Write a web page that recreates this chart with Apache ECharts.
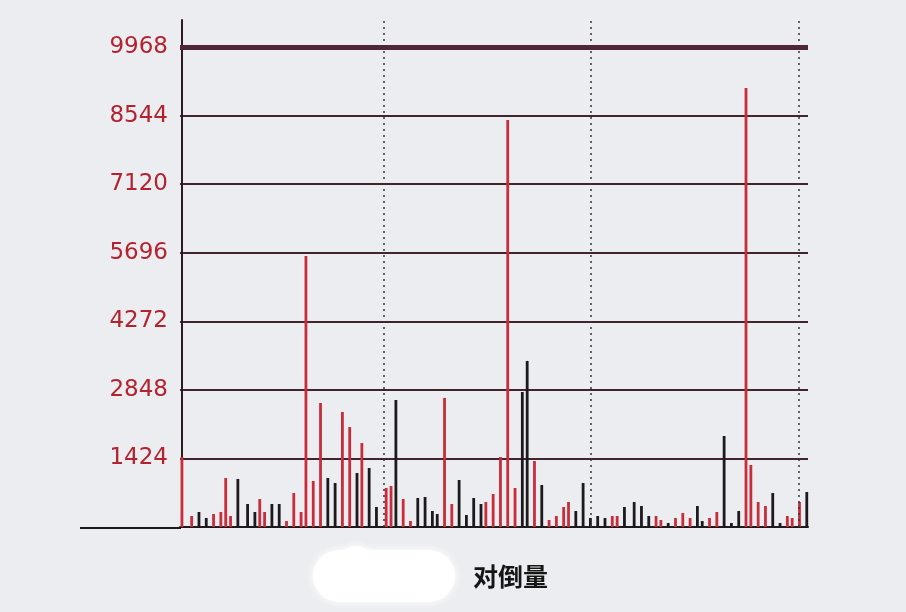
<!DOCTYPE html>
<html>
<head>
<meta charset="utf-8">
<script src="https://cdn.jsdelivr.net/npm/echarts@6/dist/echarts.min.js"></script>
<style>
html,body{margin:0;padding:0;background:#ecedf0;}
#c{width:906px;height:612px;}
</style>
</head>
<body>
<div id="c"></div>
<script>
// y-axis tick labels
const yTicks = [1424, 2848, 4272, 5696, 7120, 8544, 9968];
// bar positions (time slot index) and values — red bars
const redX = [0,4,13,16,18,20,32,34,43,46,49,51,54,57,66,69,74,84,86,91,94,108,111,125,128,131,134,137,145,151,154,157,159,177,179,195,197,203,206,209,217,220,232,234,237,240,249,251,254];
const redV = [1450,228,270,311,1018,228,581,311,125,706,311,5630,955,2575,2389,2077,1745,810,851,581,125,2680,478,519,685,1454,8450,810,1371,145,228,415,519,228,228,228,145,187,291,187,187,311,9118,1288,519,436,228,187,519];
// black bars
const blackX = [7,10,23,27,30,37,40,60,63,72,77,80,88,97,100,103,105,114,117,120,123,140,142,148,162,165,168,171,174,182,186,189,192,200,212,214,223,226,229,243,246,257];
const blackV = [311,187,997,478,311,478,478,1018,914,1121,1225,415,2638,602,623,332,270,976,249,602,478,2804,3448,872,332,914,187,228,187,415,519,436,228,83,436,125,1890,83,332,706,83,727];
// session separators (slot index)
const sessionMarks = [83, 168, 253.6];
const xLabel = '对倒量';

const yStep = 1424;
const yTop = 9968;

const chart = echarts.init(document.getElementById('c'));
const pair = (xs, vs) => xs.map((x, i) => [x, vs[i]]);

chart.setOption({
  backgroundColor: '#ecedf0',
  animation: false,
  title: {
    text: xLabel,
    left: 468,
    top: 559,
    textStyle: {fontFamily: 'Noto Sans CJK SC', fontSize: 25, fontWeight: 'bold', color: '#151515'}
  },
  grid: {left: 180, right: 98, top: 20, bottom: 85},
  xAxis: {
    type: 'value',
    min: -0.8,
    max: 257.5,
    axisLine: {show: true, lineStyle: {color: '#1e1a1c', width: 2}},
    axisTick: {show: false},
    axisLabel: {show: false},
    splitLine: {show: false}
  },
  yAxis: {
    type: 'value',
    min: 0,
    max: yTop * 507 / 480,
    interval: yStep,
    axisLine: {show: true, lineStyle: {color: '#2a1c20', width: 2}},
    axisTick: {show: false},
    axisLabel: {
      color: '#b3222e',
      fontFamily: 'DejaVu Sans',
      fontSize: 23,
      margin: 12,
      showMaxLabel: false,
      formatter: v => (yTicks.indexOf(v) >= 0 ? String(v) : '')
    },
    splitLine: {show: true, showMaxLine: false, lineStyle: {color: '#43242c', width: 2.2}}
  },
  series: [
    {
      type: 'bar',
      name: 'red',
      barWidth: 2.8,
      barGap: '-100%',
      itemStyle: {color: '#c92c3a'},
      data: pair(redX, redV),
      markLine: {
        silent: true,
        symbol: 'none',
        label: {show: false},
        data: [{yAxis: yTop, lineStyle: {color: '#50263a', width: 5, type: 'solid'}}]
      }
    },
    {
      type: 'bar',
      name: 'black',
      barWidth: 2.8,
      barGap: '-100%',
      itemStyle: {color: '#1c1a1e'},
      data: pair(blackX, blackV),
      markLine: {
        silent: true,
        symbol: 'none',
        label: {show: false},
        lineStyle: {color: '#333338', width: 1.5, type: [2, 4]},
        data: sessionMarks.map(x => ({xAxis: x}))
      }
    }
  ],
  graphic: [
    {type: 'line', shape: {x1: 80, y1: 528, x2: 181, y2: 528}, style: {stroke: '#1e1a1c', lineWidth: 2}, z: 10},
    {type: 'rect', shape: {x: 313, y: 550, width: 142, height: 52, r: 26}, style: {fill: '#ffffff', shadowBlur: 10, shadowColor: '#ffffff'}, z: 10},
    {type: 'circle', shape: {cx: 356, cy: 561, r: 15}, style: {fill: '#ffffff', shadowBlur: 8, shadowColor: '#ffffff'}, z: 10}
  ]
});
</script>
</body>
</html>
